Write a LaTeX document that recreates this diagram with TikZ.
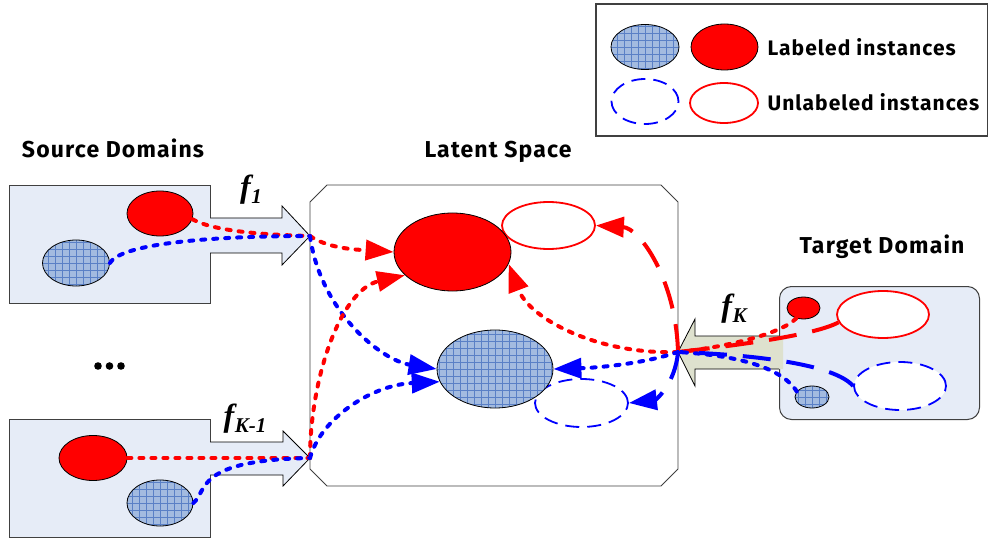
\documentclass[tikz,border=0pt]{standalone}
\usepackage{fontspec}
\setmainfont{Liberation Serif}
\newfontfamily\lab{Fira Sans}[LetterSpace=5.0]
\usetikzlibrary{arrows.meta,shapes.geometric}
\definecolor{boxfill}{HTML}{E6ECF7}
\definecolor{gridfill}{HTML}{A3BBE0}
\definecolor{gridline}{HTML}{5A80C6}
\definecolor{arrfill}{HTML}{DEE1CE}
\definecolor{edge}{HTML}{404040}
\definecolor{myred}{HTML}{FF0000}
\definecolor{myblue}{HTML}{0000FF}
\tikzset{
  gridell/.style={ellipse, draw=black, line width=0.8pt, fill=gridfill, inner sep=0pt,
    path picture={\draw[gridline, line width=0.5pt, step=7pt]
      (path picture bounding box.south west) grid (path picture bounding box.north east);}},
  redell/.style={ellipse, draw=black, line width=0.8pt, fill=myred, inner sep=0pt},
  redring/.style={ellipse, draw=myred, line width=1.8pt, fill=white, inner sep=0pt},
  bluering/.style={ellipse, draw=myblue, line width=1.8pt, fill=white, inner sep=0pt, dash pattern=on 14pt off 8pt},
  dombox/.style={draw=edge, line width=1pt, fill=boxfill, inner sep=0pt, anchor=north west},
  dotline/.style={line width=4pt, dash pattern=on 4pt off 8pt, line cap=round},
  longdash/.style={line width=4pt, dash pattern=on 28pt off 16pt},
  tipend/.style={-{Triangle[length=28pt,width=20pt]}},
  title/.style={font=\lab\bfseries\fontsize{23}{23}\selectfont},
  legtext/.style={font=\lab\bfseries\fontsize{21}{21}\selectfont, anchor=west},
  flabel/.style={font=\bfseries\itshape\fontsize{32}{32}\selectfont},
  barrow/.style={draw=black, line width=0.8pt},
}
\newcommand{\subsc}[1]{\kern0.5pt\raisebox{-6pt}{\fontsize{21}{21}\selectfont #1}}
\begin{document}
\begin{tikzpicture}[x=1pt,y=-1pt]
\useasboundingbox (0,0) rectangle (988,540);

% legend
\node[draw=edge, line width=2pt, minimum width=392pt, minimum height=132pt, inner sep=0pt, anchor=north west] (legend) at (595,3) {};
\node[gridell, minimum width=68pt, minimum height=45pt] (lgB) at (645,47) {};
\node[redell, minimum width=67pt, minimum height=46pt] (lgR) at (724.5,47) {};
\node[bluering, minimum width=67pt, minimum height=45pt] (lgBU) at (645,101.5) {};
\node[redring, minimum width=68pt, minimum height=40pt] (lgRU) at (724,103) {};
\node[legtext] (lgT1) at (764,47) {Labeled instances};
\node[legtext] (lgT2) at (764,102) {Unlabeled instances};

% titles
\node[title] (tSrc) at (113,148) {Source Domains};
\node[title] (tLat) at (498,152) {Latent Space};
\node[title] (tTgt) at (882,247) {Target Domain};

% source domain boxes
\node[dombox, minimum width=201pt, minimum height=118pt] (src1) at (9,185) {};
\node[redell, minimum width=66pt, minimum height=45pt] (s1R) at (160,213.5) {};
\node[gridell, minimum width=67pt, minimum height=46pt] (s1B) at (76,263) {};

\node[dombox, minimum width=201pt, minimum height=118pt] (src2) at (9,419) {};
\node[redell, minimum width=68pt, minimum height=45pt] (s2R) at (93,458) {};
\node[gridell, minimum width=66pt, minimum height=46pt] (s2B) at (160,503) {};

% dots
\fill (98,366) circle (3.8) (109.5,366) circle (3.8) (121,366) circle (3.8);

% latent space
\draw[edge, line width=0.9pt, fill=white] (327,185) -- (661,185) -- (678,202) -- (678,469) -- (661,486) -- (327,486) -- (310,469) -- (310,202) -- cycle;
\node[redring, minimum width=93pt, minimum height=47pt] (lRU) at (548.5,225.5) {};
\node[redell, minimum width=117pt, minimum height=78pt] (lR) at (452.5,252) {};
\node[bluering, minimum width=93pt, minimum height=48pt] (lBU) at (581.5,403) {};
\node[gridell, minimum width=116pt, minimum height=78pt] (lB) at (495,369) {};

% target domain
\node[dombox, rounded corners=12pt, minimum width=200pt, minimum height=133pt] (tgt) at (779,286) {};
\node[redell, minimum width=33pt, minimum height=22pt] (tR) at (803.5,308) {};
\node[redring, minimum width=92pt, minimum height=47pt] (tRU) at (883,314.5) {};
\node[gridell, minimum width=34pt, minimum height=22pt] (tB) at (812,397) {};
\node[bluering, minimum width=92pt, minimum height=48pt] (tBU) at (900,386) {};

% block arrows
\path[fill=boxfill] (210,218) -- (282,218) -- (282,206) -- (310,236) -- (282,265) -- (282,253) -- (210,253);
\draw[barrow] (210,218) -- (282,218) -- (282,206) -- (310,236) -- (282,265) -- (282,253) -- (210,253);
\path[fill=boxfill] (210,442) -- (283,442) -- (283,431) -- (310,458) -- (283,486) -- (283,475) -- (210,475);
\draw[barrow] (210,442) -- (283,442) -- (283,431) -- (310,458) -- (283,486) -- (283,475) -- (210,475);
\path[fill=arrfill] (783,336) -- (695,336) -- (695,319) -- (678,352) -- (695,386) -- (695,369) -- (783,369);
\draw[barrow] (779,336) -- (695,336) -- (695,319) -- (678,352) -- (695,386) -- (695,369) -- (779,369);

\coordinate (j1) at (310,236);
\coordinate (j2) at (310,458);
\coordinate (jK) at (678,352);

\node[flabel] (f1) at (251,190) {f\subsc{1}};
\node[flabel] (fK1) at (245,419) {f\subsc{K-1}};
\node[flabel] (fK) at (734,309) {f\subsc{K}};

% source 1 connectors
\draw[dotline, myred] (s1R.-10) .. controls (215,232) and (270,235) .. (j1);
\draw[dotline, myblue] (s1B.east) .. controls (120,245) and (200,236) .. (j1);
\draw[dotline, myred, tipend] (j1) .. controls (330,250) and (365,250) .. (lR.west);
\draw[dotline, myblue, tipend] (j1) .. controls (320,310) and (380,360) .. (lB.west);

% source 2 connectors
\draw[dotline, myred] (s2R.east) -- (j2);
\draw[dotline, myblue] (s2B.east) .. controls (208,490) and (195,460) .. (j2);
\draw[dotline, myred, tipend] (j2) .. controls (310,380) and (340,290) .. (lR.206);
\draw[dotline, myblue, tipend] (j2) .. controls (320,420) and (370,385) .. (lB.193);

% target connectors
\draw[dotline, myred] (tR.235) .. controls (780,335) and (720,348) .. (jK);
\draw[longdash, myred] (tRU.190) .. controls (815,335) and (740,345) .. (jK);
\draw[longdash, myblue] (tBU.west) .. controls (835,365) and (760,355) .. (jK);
\draw[dotline, myblue] (tB.160) .. controls (780,365) and (730,355) .. (jK);

\draw[longdash, myred, tipend] (jK) .. controls (676,280) and (640,228) .. (lRU.east);
\draw[longdash, myblue, tipend] (jK) .. controls (675,385) and (655,400) .. (lBU.east);
\draw[dotline, myred, tipend] (jK) .. controls (600,355) and (530,320) .. (lR.-12);
\draw[dotline, myblue, tipend] (jK) .. controls (640,365) and (590,368) .. (lB.east);
\end{tikzpicture}
\end{document}
